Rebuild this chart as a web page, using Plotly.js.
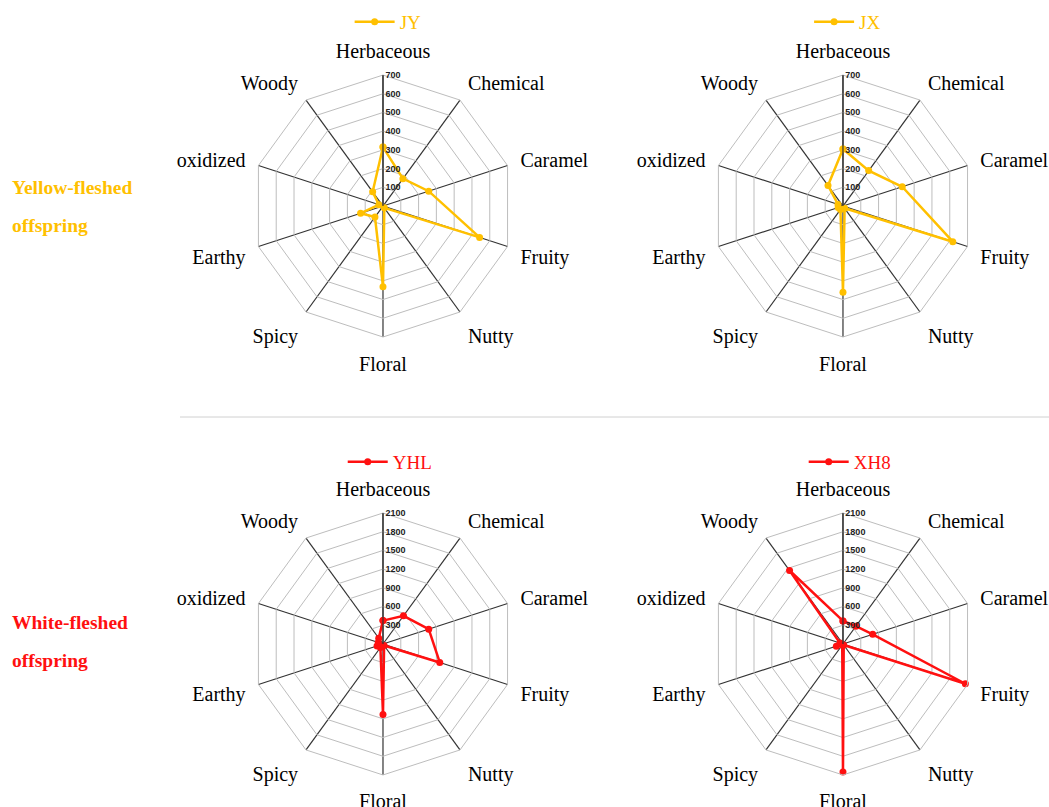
<!DOCTYPE html>
<html><head><meta charset="utf-8">
<script src="https://cdn.plot.ly/plotly-3.0.1.min.js"></script>
<style>body{margin:0;padding:0;background:#fff}#c{width:1049px;height:807px}</style>
</head><body><div id="c"></div>
<script>
const categories = ["Herbaceous","Chemical","Caramel","Fruity","Nutty","Floral","Spicy","Earthy","oxidized","Woody"];
const JY  = [315, 181, 257, 543, 12, 431, 73, 126, 23, 94];
const JX  = [305, 234, 333, 617, 15, 461, 23, 27, 28, 136];
const YHL = [375, 559, 771, 957, 30, 1130, 70, 100, 80, 116];
const XH8 = [370, 353, 501, 2063, 20, 2052, 20, 112, 50, 1457];
const ticksTop = [100,200,300,400,500,600,700];
const ticksBottom = [300,600,900,1200,1500,1800,2100];
const yellow = "#FFC000", red = "#FF1010";
const serif = "Liberation Serif, Times New Roman, serif";

function closed(a){ return a.concat([a[0]]); }
function trace(name, vals, color, polar, legend){
  return {type:"scatterpolar", r: closed(vals), theta: closed(categories), name:name,
    mode:"lines+markers", line:{color:color,width:2.5}, marker:{color:color,size:7},
    subplot:polar, legend:legend, showlegend:true, cliponaxis:false};
}
const data = [
  trace("JY", JY, yellow, "polar", "legend"),
  trace("JX", JX, yellow, "polar2", "legend2"),
  trace("YHL", YHL, red, "polar3", "legend3"),
  trace("XH8", XH8, red, "polar4", "legend4")
];
function polar(xd, yd, maxv, tv){
  return {domain:{x:xd,y:yd}, gridshape:"linear", bgcolor:"#fff",
    radialaxis:{range:[0,maxv], angle:90, tickangle:90, tickvals:tv, ticktext:tv.map(String),
      showline:true, linecolor:"#333", linewidth:1.2, gridcolor:"#bdbdbd", gridwidth:1,
      ticks:"", tickfont:{family:"Arial, Liberation Sans, sans-serif", size:9, color:"#222", weight:"bold"}, side:"clockwise"},
    angularaxis:{direction:"clockwise", rotation:90, type:"category",
      showline:true, linecolor:"#bdbdbd", linewidth:1, gridcolor:"#333", gridwidth:1.2,
      ticks:"outside", ticklen:9, tickcolor:"rgba(0,0,0,0)",
      tickfont:{family:serif, size:20, color:"#000"}}
  };
}
function legend(x, y, color){
  return {x:x, y:y, xanchor:"center", yanchor:"middle", orientation:"h", bgcolor:"rgba(0,0,0,0)",
    font:{family:serif, size:19, color:color}, itemwidth:40};
}
function rowLabel(text, ypx, color){
  return {text:text, x:10/1049, y:1-ypx/807, xref:"paper", yref:"paper", xanchor:"left", yanchor:"middle",
    showarrow:false, font:{family:serif,size:19.5,color:color,weight:"bold"}};
}
const layout = {
  width:1049, height:807, margin:{l:0,r:0,t:0,b:0}, paper_bgcolor:"#fff",
  polar: polar([0.2402,0.49],[0.5824,0.907],700,ticksTop),
  polar2: polar([0.6787,0.9285],[0.5824,0.907],700,ticksTop),
  polar3: polar([0.2402,0.49],[0.0397,0.3643],2100,ticksBottom),
  polar4: polar([0.6787,0.9285],[0.0397,0.3643],2100,ticksBottom),
  legend: legend(0.37,0.973,yellow),
  legend2: legend(0.808,0.973,yellow),
  legend3: legend(0.372,0.4275,red),
  legend4: legend(0.81,0.4275,red),
  shapes:[{type:"line", xref:"paper", yref:"paper", x0:180/1049, x1:1, y0:1-417/807, y1:1-417/807, line:{color:"#d0d0d0", width:1}}],
  annotations:[
    rowLabel("Yellow-fleshed",188,yellow), rowLabel("offspring",226,yellow),
    rowLabel("White-fleshed",622,red), rowLabel("offspring",660,red)
  ]
};
Plotly.newPlot("c", data, layout, {displayModeBar:false, staticPlot:true});
</script></body></html>
